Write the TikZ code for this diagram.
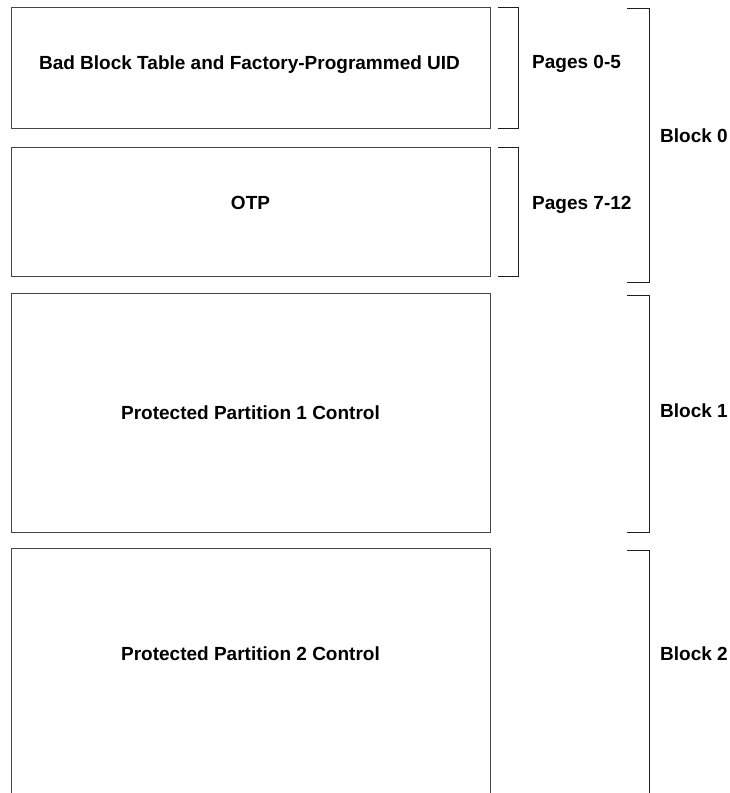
\documentclass[tikz,border=0pt]{standalone}
\usepackage{fontspec}
\setmainfont{Liberation Sans}
\definecolor{boxline}{RGB}{70,70,70}
\definecolor{brkline}{RGB}{30,30,30}
\begin{document}
\begin{tikzpicture}[x=1bp,y=-1bp,
  membox/.style={draw=boxline, line width=1.1bp, minimum width=479bp, inner sep=0pt, anchor=north west},
  lbl/.style={font=\bfseries\fontsize{19bp}{22bp}\selectfont, inner sep=0pt, anchor=base},
  sidelbl/.style={lbl, anchor=base west},
  brk/.style={draw=brkline, line width=0.9bp}]
\useasboundingbox (0,0) rectangle (730,793);
\clip (0,0) rectangle (730,793);
% memory boxes
\node[membox, minimum height=121bp] (bbt) at (11,7) {};
\node[membox, minimum height=129bp] (otp) at (11,147) {};
\node[membox, minimum height=239bp] (pp1) at (11,293) {};
\node[membox, minimum height=300bp] (pp2) at (11,548) {};
% box texts
\node[lbl] (tbbt) at (249.5,70) {Bad Block Table and Factory-Programmed UID};
\node[lbl] (totp) at (250.5,209) {OTP};
\node[lbl] (tpp1) at (250.5,419) {Protected Partition 1 Control};
\node[lbl] (tpp2) at (250.5,660) {Protected Partition 2 Control};
% page brackets
\coordinate (p0a) at (498,7);  \coordinate (p0b) at (498,128);
\coordinate (p7a) at (498,147); \coordinate (p7b) at (498,276);
\draw[brk] (p0a) -| (518,128) -- (p0b);
\draw[brk] (p7a) -| (518,276) -- (p7b);
\node[sidelbl] (lp0) at (532,69) {Pages 0-5};
\node[sidelbl] (lp7) at (532,209) {Pages 7-12};
% block brackets
\coordinate (b0a) at (627,8);   \coordinate (b0b) at (627,282);
\coordinate (b1a) at (627,295); \coordinate (b1b) at (627,532);
\coordinate (b2a) at (627,550);
\draw[brk] (b0a) -| (649,282) -- (b0b);
\draw[brk] (b1a) -| (649,532) -- (b1b);
\draw[brk] (b2a) -| (649,800);
\node[sidelbl] (lb0) at (660,142) {Block 0};
\node[sidelbl] (lb1) at (660,417) {Block 1};
\node[sidelbl] (lb2) at (660,660) {Block 2};
\end{tikzpicture}
\end{document}
